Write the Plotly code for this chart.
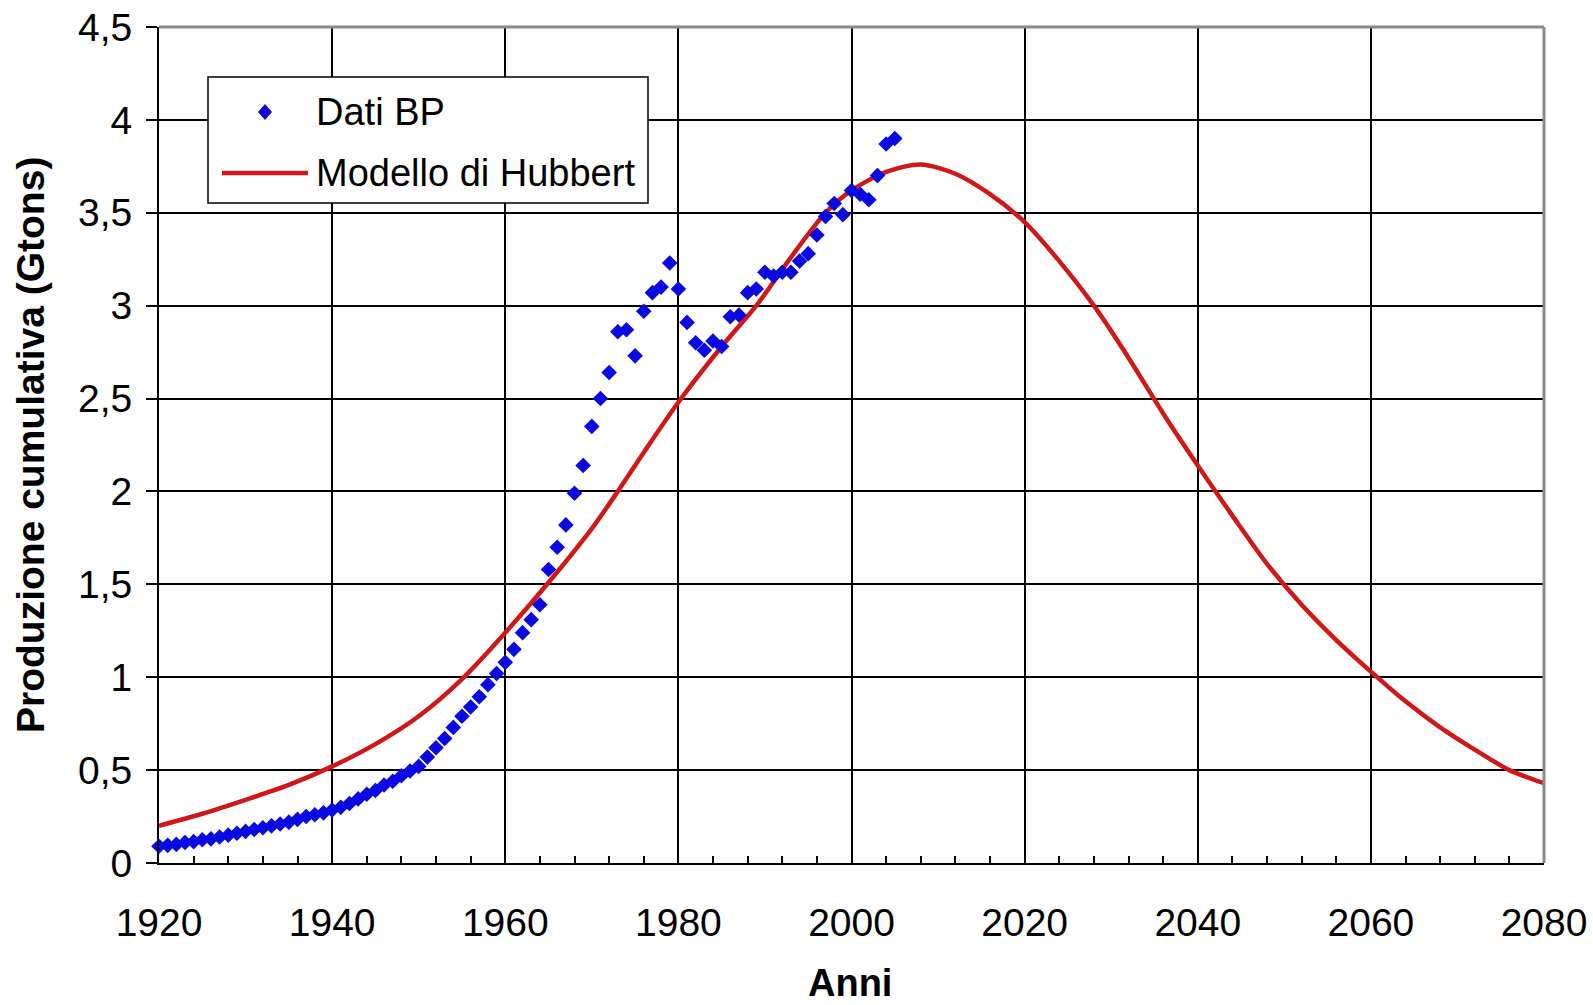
import plotly.graph_objects as go

# ---------------- data ----------------
bp_years = list(range(1920, 2006))
bp_values = [
    0.09, 0.095, 0.10, 0.11, 0.115, 0.125, 0.13, 0.14, 0.15, 0.16,
    0.17, 0.18, 0.19, 0.20, 0.21, 0.22, 0.235, 0.25, 0.26, 0.27,
    0.285, 0.30, 0.32, 0.345, 0.37, 0.39, 0.42, 0.44, 0.47, 0.495,
    0.52, 0.57, 0.62, 0.67, 0.73, 0.79, 0.84, 0.895, 0.96, 1.02,
    1.08, 1.15, 1.24, 1.31, 1.39, 1.58, 1.70, 1.82, 1.99, 2.14,
    2.35, 2.50, 2.64, 2.86, 2.87, 2.73, 2.97, 3.07, 3.10, 3.23,
    3.09, 2.91, 2.80, 2.76, 2.81, 2.78, 2.94, 2.95, 3.07, 3.09,
    3.18, 3.16, 3.18, 3.18, 3.24, 3.28, 3.38, 3.48, 3.55, 3.49,
    3.62, 3.60, 3.57, 3.70, 3.87, 3.90,
]

hubbert_years = [1920, 1925, 1930, 1935, 1940, 1945, 1950, 1955, 1960, 1965,
                 1970, 1973, 1976, 1980, 1985, 1989, 1993, 1997, 2000, 2004,
                 2008, 2012, 2016, 2020, 2024, 2028, 2032, 2036, 2040, 2044,
                 2048, 2052, 2056, 2060, 2064, 2068, 2072, 2076, 2080]
hubbert_values = [0.20, 0.265, 0.34, 0.42, 0.52, 0.64, 0.79, 0.99, 1.24, 1.51,
                  1.80, 2.00, 2.21, 2.48, 2.78, 3.00, 3.26, 3.50, 3.62, 3.72,
                  3.76, 3.71, 3.60, 3.45, 3.24, 3.00, 2.72, 2.42, 2.14, 1.87,
                  1.61, 1.39, 1.20, 1.03, 0.87, 0.73, 0.61, 0.50, 0.43]

series_names = ["Dati BP", "Modello di Hubbert"]
x_title = "Anni"
y_title = "Produzione cumulativa (Gtons)"

# ---------------- layout geometry ----------------
W, H = 1593, 1005
L, R, T, B = 159, 1544, 27, 863
PW, PH = R - L, B - T

def px(x):
    return (x - L) / PW

def py(y):
    return (B - y) / PH

FONT = "Liberation Sans, Arial, sans-serif"
BLUE = "#0A0AE0"
RED = "#D01818"

fig = go.Figure()
fig.add_trace(go.Scatter(
    x=hubbert_years, y=hubbert_values, mode="lines", name=series_names[1],
    line=dict(color=RED, width=4.5, shape="spline", smoothing=0.8),
    cliponaxis=False, showlegend=False,
))
fig.add_trace(go.Scatter(
    x=bp_years, y=bp_values, mode="markers", name=series_names[0],
    marker=dict(symbol="diamond", size=12, color=BLUE, line=dict(width=0)),
    cliponaxis=False, showlegend=False,
))

shapes = []
# top and right frame (grey)
shapes.append(dict(type="line", xref="paper", yref="paper", x0=0, x1=1, y0=1, y1=1,
                   line=dict(color="#8a8a8a", width=3), layer="above"))
shapes.append(dict(type="line", xref="paper", yref="paper", x0=1, x1=1, y0=0, y1=1,
                   line=dict(color="#8a8a8a", width=3), layer="above"))
# legend box
shapes.append(dict(type="rect", xref="paper", yref="paper",
                   x0=px(208), x1=px(648), y0=py(203), y1=py(77),
                   line=dict(color="black", width=1.5), fillcolor="white", layer="above"))
# legend line sample
shapes.append(dict(type="line", xref="paper", yref="paper",
                   x0=px(222), x1=px(308), y0=py(173), y1=py(173),
                   line=dict(color=RED, width=4.5), layer="above"))
# legend diamond sample
cx, cy, hw, hh = 265, 112, 7, 8
path = (f"M {px(cx - hw)},{py(cy)} L {px(cx)},{py(cy - hh)} "
        f"L {px(cx + hw)},{py(cy)} L {px(cx)},{py(cy + hh)} Z")
shapes.append(dict(type="path", xref="paper", yref="paper", path=path,
                   fillcolor=BLUE, line=dict(color=BLUE, width=0), layer="above"))

annotations = [
    dict(text=series_names[0], xref="paper", yref="paper", x=px(314), y=py(112),
         xanchor="left", yanchor="middle", showarrow=False,
         font=dict(family=FONT, size=38, color="black")),
    dict(text=series_names[1], xref="paper", yref="paper", x=px(314), y=py(173),
         xanchor="left", yanchor="middle", showarrow=False,
         font=dict(family=FONT, size=38, color="black")),
    dict(text=f"<b>{x_title}</b>", xref="paper", yref="paper", x=px(850), y=py(983),
         xanchor="center", yanchor="middle", showarrow=False,
         font=dict(family=FONT, size=38, color="black")),
    dict(text=f"<b>{y_title}</b>", xref="paper", yref="paper", x=px(30), y=py(445),
         xanchor="center", yanchor="middle", showarrow=False, textangle=-90,
         font=dict(family=FONT, size=39, color="black")),
]

fig.update_layout(
    width=W, height=H,
    margin=dict(l=L, r=W - R, t=T, b=H - B, autoexpand=False),
    paper_bgcolor="white", plot_bgcolor="white",
    separators=",.",
    font=dict(family=FONT, size=38, color="black"),
    shapes=shapes, annotations=annotations,
    showlegend=False,
)
fig.update_xaxes(
    range=[1920, 2080], dtick=20, tick0=1920,
    showgrid=True, gridcolor="black", gridwidth=2,
    showline=True, linecolor="black", linewidth=2,
    ticks="inside", ticklen=7, tickwidth=2, tickcolor="black",
    minor=dict(dtick=4, ticks="inside", ticklen=7, tickwidth=2, tickcolor="black", showgrid=False),
    tickfont=dict(family=FONT, size=39), zeroline=False,
    ticklabelstandoff=24,
)
fig.update_yaxes(
    range=[0, 4.5], dtick=0.5, tick0=0,
    showgrid=True, gridcolor="black", gridwidth=2,
    showline=True, linecolor="black", linewidth=2,
    ticks="outside", ticklen=11, tickwidth=2, tickcolor="black",
    tickfont=dict(family=FONT, size=39), zeroline=False,
    ticklabelstandoff=6,
)

fig.write_html("out.html")
